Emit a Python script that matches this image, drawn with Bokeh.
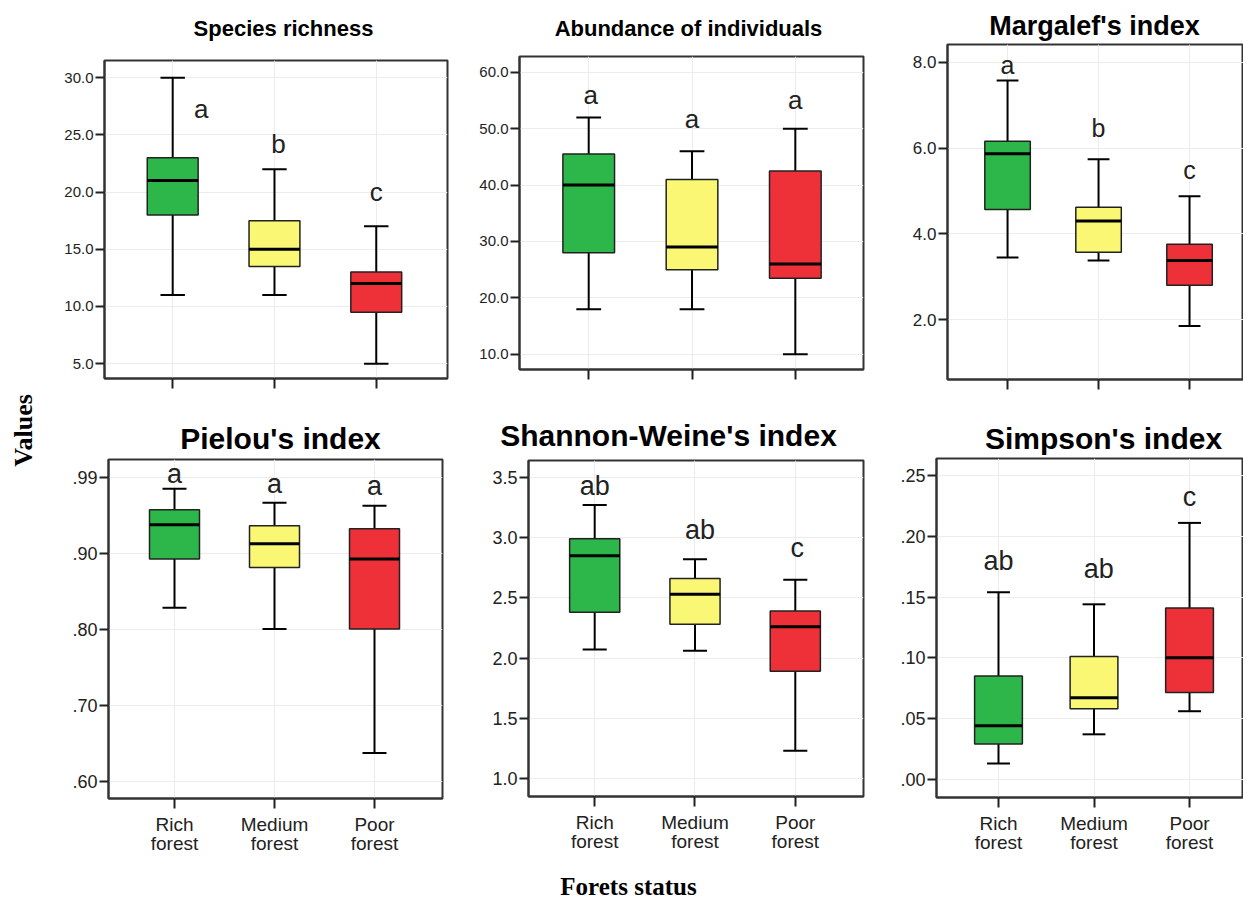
import math
from bokeh.plotting import figure
from bokeh.layouts import row, column
from bokeh.models import Range1d, FixedTicker, Label, CustomJSTickFormatter
from bokeh.core.properties import value
from bokeh.embed import file_html
from bokeh.resources import INLINE

# ---------------- data ----------------
categories = ["Rich\nforest", "Medium\nforest", "Poor\nforest"]
box_colors = ["#2db74a", "#f9f773", "#ee3039"]

# Species richness
sr_low = [11, 11, 5]
sr_q1 = [18, 13.5, 9.5]
sr_med = [21, 15, 12]
sr_q3 = [23, 17.5, 13]
sr_high = [30, 22, 17]
sr_letters = ["a", "b", "c"]
sr_letter_y = [27.3, 24.2, 20.0]
sr_letter_x = [1.28, 2.04, 3.0]
sr_ticks = [5, 10, 15, 20, 25, 30]
sr_tick_labels = ["5.0", "10.0", "15.0", "20.0", "25.0", "30.0"]

# Abundance of individuals
ab_low = [18, 18, 10]
ab_q1 = [28, 25, 23.5]
ab_med = [40, 29, 26]
ab_q3 = [45.5, 41, 42.5]
ab_high = [52, 46, 50]
ab_letters = ["a", "a", "a"]
ab_letter_y = [55.9, 51.8, 55.0]
ab_letter_x = [1.02, 2.0, 3.0]
ab_ticks = [10, 20, 30, 40, 50, 60]
ab_tick_labels = ["10.0", "20.0", "30.0", "40.0", "50.0", "60.0"]

# Margalef's index
mg_low = [3.45, 3.38, 1.85]
mg_q1 = [4.57, 3.57, 2.80]
mg_med = [5.87, 4.30, 3.38]
mg_q3 = [6.16, 4.62, 3.76]
mg_high = [7.58, 5.74, 4.88]
mg_letters = ["a", "b", "c"]
mg_letter_y = [7.93, 6.46, 5.48]
mg_letter_x = [1.0, 2.0, 3.0]
mg_ticks = [2, 4, 6, 8]
mg_tick_labels = ["2.0", "4.0", "6.0", "8.0"]

# Pielou's index
pi_low = [0.829, 0.801, 0.638]
pi_q1 = [0.893, 0.882, 0.801]
pi_med = [0.938, 0.913, 0.893]
pi_q3 = [0.958, 0.937, 0.933]
pi_high = [0.9855, 0.967, 0.963]
pi_letters = ["a", "a", "a"]
pi_letter_y = [1.005, 0.992, 0.989]
pi_letter_x = [1.0, 2.0, 3.0]
pi_ticks = [0.6, 0.7, 0.8, 0.9, 1.0]
pi_tick_labels = [".60", ".70", ".80", ".90", ".99"]

# Shannon-Weine's index
sh_low = [2.07, 2.06, 1.23]
sh_q1 = [2.38, 2.28, 1.89]
sh_med = [2.85, 2.53, 2.26]
sh_q3 = [2.99, 2.66, 2.39]
sh_high = [3.27, 2.82, 2.65]
sh_letters = ["ab", "ab", "c"]
sh_letter_y = [3.43, 3.06, 2.91]
sh_letter_x = [1.0, 2.05, 3.02]
sh_ticks = [1.0, 1.5, 2.0, 2.5, 3.0, 3.5]
sh_tick_labels = ["1.0", "1.5", "2.0", "2.5", "3.0", "3.5"]

# Simpson's index
si_low = [0.013, 0.037, 0.056]
si_q1 = [0.029, 0.058, 0.0715]
si_med = [0.044, 0.067, 0.100]
si_q3 = [0.085, 0.101, 0.141]
si_high = [0.154, 0.144, 0.211]
si_letters = ["ab", "ab", "c"]
si_letter_y = [0.180, 0.173, 0.232]
si_letter_x = [1.0, 2.05, 3.0]
si_ticks = [0.0, 0.05, 0.10, 0.15, 0.20, 0.25]
si_tick_labels = [".00", ".05", ".10", ".15", ".20", ".25"]

y_label = "Values"
x_label = "Forets status"

# ---------------- styling helpers ----------------
SANS = "Liberation Sans"
SERIF = "Liberation Serif"

FMT_CODE = """
let best = 0;
for (let i = 0; i < tvals.length; i++) {
  if (Math.abs(tvals[i] - tick) < Math.abs(tvals[best] - tick)) best = i;
}
return tlabels[best];
"""


def text_strip(width, height, text, x, y, font, size, angle=0.0):
    """A blank figure (no axes) holding one label, used for titles."""
    f = figure(width=width, height=height, x_range=Range1d(0, width),
               y_range=Range1d(0, height), x_axis_type=None, y_axis_type=None,
               output_backend="svg", toolbar_location=None, title=None,
               min_border=0, outline_line_color=None, frame_align=False)
    f.background_fill_color = "white"
    f.border_fill_color = "white"
    f.add_layout(Label(x=x, y=y, text=text, angle=angle,
                       text_align="center", text_baseline="middle",
                       text_font=font, text_font_style="bold",
                       text_font_size=size, text_color="black"))
    return f


def make_panel(title, low, q1, med, q3, high, letters, letter_x, letter_y,
               yticks, ylabels, xr, yr, geom, show_cats, tsize, tpos,
               tick_size, letter_size):
    w, h, bl, br, bt, bb = geom
    strip_h = bt - 2
    tfig = text_strip(w, strip_h, title, bl + tpos[0], tpos[1] - 2, SANS, tsize)

    p = figure(width=w, height=h - strip_h, x_range=Range1d(*xr), y_range=Range1d(*yr),
               output_backend="svg", toolbar_location=None, title=None,
               min_border_left=bl, min_border_right=br,
               min_border_top=2, min_border_bottom=bb, frame_align=False)
    p.background_fill_color = "white"
    p.border_fill_color = "white"
    p.outline_line_color = "#333333"
    p.outline_line_width = 2

    xs = [i + 1 for i in range(len(categories))]

    p.yaxis.ticker = FixedTicker(ticks=yticks)
    p.yaxis.formatter = CustomJSTickFormatter(args=dict(tvals=yticks, tlabels=ylabels), code=FMT_CODE)
    p.xaxis.ticker = FixedTicker(ticks=xs)
    if show_cats:
        p.xaxis.formatter = CustomJSTickFormatter(args=dict(tvals=xs, tlabels=categories), code=FMT_CODE)
    else:
        p.xaxis.formatter = CustomJSTickFormatter(code="return '';")

    for ax in (p.xaxis[0], p.yaxis[0]):
        ax.axis_line_color = "#333333"
        ax.axis_line_width = 2
        ax.major_tick_line_color = "#222222"
        ax.major_tick_line_width = 2
        ax.major_tick_in = 0
        ax.minor_tick_line_color = None
        ax.major_label_text_color = "#222222"
        ax.major_label_text_font = SANS
    p.yaxis.major_tick_out = 9
    p.yaxis.major_label_standoff = 2
    p.yaxis.major_label_text_font_size = tick_size
    p.xaxis.major_tick_out = 10
    p.xaxis.major_label_standoff = 5 if show_cats else 0
    p.xaxis.major_label_text_font_size = "19px"
    p.xaxis.major_label_text_line_height = 0.95

    p.grid.grid_line_color = "#ececec"
    p.grid.grid_line_width = 1

    cap = 0.12
    half = 0.25
    # whiskers
    p.segment(x0=xs, y0=high, x1=xs, y1=q3, line_color="black", line_width=2)
    p.segment(x0=xs, y0=low, x1=xs, y1=q1, line_color="black", line_width=2)
    p.segment(x0=[x - cap for x in xs], y0=high, x1=[x + cap for x in xs], y1=high,
              line_color="black", line_width=2)
    p.segment(x0=[x - cap for x in xs], y0=low, x1=[x + cap for x in xs], y1=low,
              line_color="black", line_width=2)
    # boxes
    p.vbar(x=xs, width=2 * half, bottom=q1, top=q3, fill_color=box_colors,
           line_color="#222222", line_width=1.5)
    # medians
    p.segment(x0=[x - half for x in xs], y0=med, x1=[x + half for x in xs], y1=med,
              line_color="black", line_width=3)
    # letters
    p.text(x=letter_x, y=letter_y, text=letters, text_align="center",
           text_baseline="middle", text_font=value(SANS),
           text_font_size=letter_size, text_color="#222222")
    return column(tfig, p, spacing=0)


# geometry: (width, height, border_left, border_right, border_top, border_bottom)
# tpos: title centre (dx from frame left, dy above frame top)
c1 = make_panel("Species richness", sr_low, sr_q1, sr_med, sr_q3, sr_high,
                sr_letters, sr_letter_x, sr_letter_y, sr_ticks, sr_tick_labels,
                (0.33, 3.70), (3.7, 31.5), (424, 405, 56, 25, 60, 27), False,
                "22px", (179, 32), "15px", "26px")
c2 = make_panel("Abundance of individuals", ab_low, ab_q1, ab_med, ab_q3, ab_high,
                ab_letters, ab_letter_x, ab_letter_y, ab_ticks, ab_tick_labels,
                (0.33, 3.66), (7.3, 62.8), (425, 405, 47, 34, 56, 36), False,
                "22px", (169, 28), "15px", "26px")
c3 = make_panel("Margalef's index", mg_low, mg_q1, mg_med, mg_q3, mg_high,
                mg_letters, mg_letter_x, mg_letter_y, mg_ticks, mg_tick_labels,
                (0.34, 3.593), (0.6, 8.42), (346, 405, 50, 0, 44, 26), False,
                "27px", (147, 19), "17px", "25px")
c4 = make_panel("Pielou's index", pi_low, pi_q1, pi_med, pi_q3, pi_high,
                pi_letters, pi_letter_x, pi_letter_y, pi_ticks, pi_tick_labels,
                (0.34, 3.68), (0.578, 1.024), (424, 453, 60, 30, 54, 60), True,
                "30px", (172, 21), "18px", "27px")
c5 = make_panel("Shannon-Weine's index", sh_low, sh_q1, sh_med, sh_q3, sh_high,
                sh_letters, sh_letter_x, sh_letter_y, sh_ticks, sh_tick_labels,
                (0.34, 3.68), (0.85, 3.64), (421, 453, 56, 30, 55, 62), True,
                "30px", (140, 25), "18px", "27px")
c6 = make_panel("Simpson's index", si_low, si_q1, si_med, si_q3, si_high,
                si_letters, si_letter_x, si_letter_y, si_ticks, si_tick_labels,
                (0.351, 3.565), (-0.015, 0.264), (350, 453, 43, 0, 53, 61), True,
                "30px", (167, 20), "18px", "27px")

vfig = text_strip(48, 899, y_label, 23, 469, SERIF, "26px", angle=math.pi / 2)
sfig = text_strip(1195, 41, x_label, 580, 13, SERIF, "25px")

layout = row(vfig,
             column(row(c1, c2, c3, spacing=0), row(c4, c5, c6, spacing=0), sfig, spacing=0),
             spacing=0)

open("out.html", "w").write(file_html(layout, INLINE))
